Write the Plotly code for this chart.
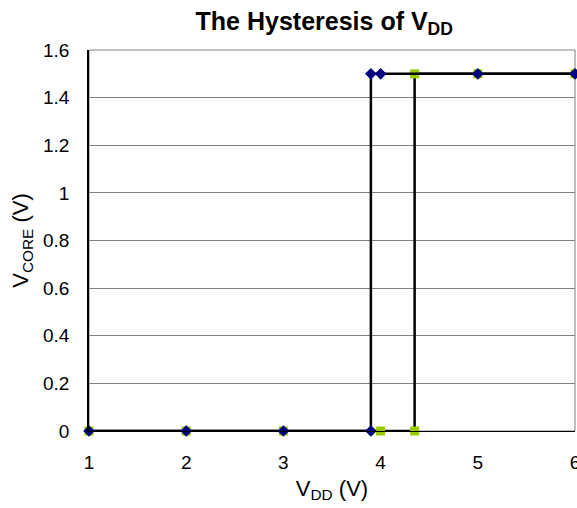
import plotly.graph_objects as go

# Rising sweep (green squares)
up_x = [1, 2, 3, 4, 4.35, 4.35, 5, 6]
up_y = [0, 0, 0, 0, 0, 1.5, 1.5, 1.5]
# Falling sweep (navy diamonds)
down_x = [6, 5, 4, 3.9, 3.9, 3, 2, 1]
down_y = [1.5, 1.5, 1.5, 1.5, 0, 0, 0, 0]

x_ticks = [1, 2, 3, 4, 5, 6]
y_ticks = [0, 0.2, 0.4, 0.6, 0.8, 1.0, 1.2, 1.4, 1.6]
y_tick_labels = ["0", "0.2", "0.4", "0.6", "0.8", "1", "1.2", "1.4", "1.6"]

fig = go.Figure()
fig.add_trace(go.Scatter(x=up_x, y=up_y, mode="lines+markers",
                         line=dict(color="black", width=2.5),
                         marker=dict(symbol="square", size=9, color="#99CC00"),
                         cliponaxis=False, showlegend=False))
fig.add_trace(go.Scatter(x=down_x, y=down_y, mode="lines+markers",
                         line=dict(color="black", width=2.5),
                         marker=dict(symbol="diamond", size=9, color="#000080"),
                         cliponaxis=False, showlegend=False))

font = "Liberation Sans, Arial, sans-serif"
fig.update_layout(
    width=577, height=508,
    margin=dict(l=89, r=2, t=50, b=77, autoexpand=False),
    paper_bgcolor="white", plot_bgcolor="white",
    font=dict(family=font, size=19, color="black"),
    title=dict(text="<b>The Hysteresis of V<sub>DD</sub></b>", x=0.484, xanchor="center",
               xref="paper", y=0.958, yanchor="middle", font=dict(size=25, family=font)),
    xaxis=dict(range=[1, 6], tickvals=x_ticks, ticktext=[str(v) for v in x_ticks],
               showgrid=False, zeroline=False, showline=True, linecolor="black", linewidth=1,
               ticks="", automargin=False, ticklabelstandoff=14, ticklabeloverflow="allow",
               title=dict(text="V<sub>DD</sub> (V)", standoff=8, font=dict(size=22))),
    yaxis=dict(range=[0, 1.6], tickvals=y_ticks, ticktext=y_tick_labels,
               showgrid=True, gridcolor="#808080", gridwidth=1, zeroline=False,
               showline=True, linecolor="black", linewidth=1.5,
               ticks="", ticklabelstandoff=14, automargin=False, ticklabeloverflow="allow",
               title=dict(text="V<sub>CORE</sub> (V)", standoff=8, font=dict(size=22))),
    shapes=[dict(type="rect", xref="paper", yref="paper", x0=0, y0=0, x1=1, y1=1,
                 line=dict(color="#808080", width=1), layer="below")],
)
fig.write_html("out.html", config={"displayModeBar": False},
               post_script="document.body.style.margin='0';document.body.style.padding='0';")
